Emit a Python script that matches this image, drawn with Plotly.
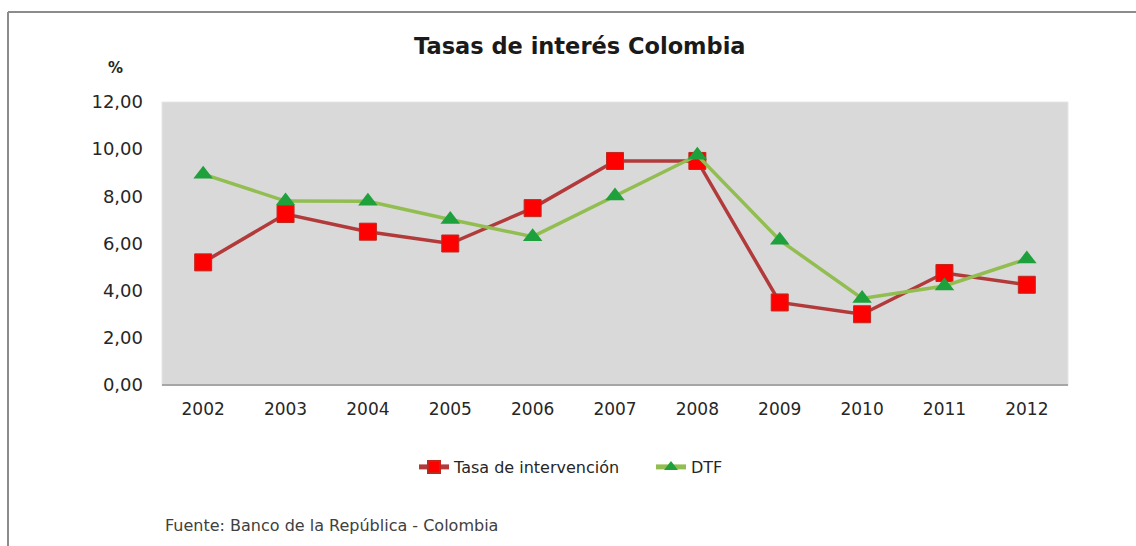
import plotly.graph_objects as go

years = ["2002", "2003", "2004", "2005", "2006", "2007", "2008", "2009", "2010", "2011", "2012"]
tasa_intervencion = [5.20, 7.25, 6.50, 6.00, 7.50, 9.50, 9.50, 3.50, 3.00, 4.75, 4.25]
dtf = [8.94, 7.80, 7.79, 7.02, 6.29, 8.01, 9.74, 6.14, 3.67, 4.20, 5.34]
y_ticks = [0, 2, 4, 6, 8, 10, 12]

W, H = 1136, 546
L, R, T, B = 162, 68, 102, 161
pw, ph = W - L - R, H - T - B


def px(x):
    return (x - L) / pw


def py(y):
    return (H - B - y) / ph


FONT = "DejaVu Sans"

fig = go.Figure()
fig.add_trace(go.Scatter(
    x=years, y=tasa_intervencion, name="Tasa de intervención",
    mode="lines+markers",
    line=dict(color="#b23a3a", width=3.5),
    marker=dict(symbol="square", size=17, color="#ff0000",
                line=dict(color="#c0281e", width=1)),
))
fig.add_trace(go.Scatter(
    x=years, y=dtf, name="DTF",
    mode="lines+markers",
    line=dict(color="#92bd50", width=3.5),
    marker=dict(symbol="triangle-up", size=17, color="#1ea03c",
                line=dict(color="#1ea03c", width=0)),
))

fig.update_layout(
    width=W, height=H,
    margin=dict(l=L, r=R, t=T, b=B),
    paper_bgcolor="white",
    plot_bgcolor="#d9d9d9",
    separators=",.",
    font=dict(family=FONT, size=14, color="#262626"),
    showlegend=True,
    legend=dict(
        orientation="h", x=px(414), y=py(467), xanchor="left", yanchor="middle",
        font=dict(size=16, color="#262626"), bgcolor="rgba(0,0,0,0)",
        entrywidth=192, entrywidthmode="pixels", tracegroupgap=0,
        itemsizing="constant",
    ),
    xaxis=dict(
        type="category", range=[-0.5, 10.5], showgrid=False, zeroline=False,
        showline=False, ticks="", tickfont=dict(size=17, color="#262626"),
        ticklabelstandoff=12,
    ),
    yaxis=dict(
        range=[0, 12], tickvals=y_ticks, tickformat=".2f", showgrid=False,
        zeroline=False, showline=False, ticks="",
        tickfont=dict(size=18, color="#262626"), ticklabelstandoff=18,
    ),
    shapes=[
        # outer frame of the chart area
        dict(type="line", xref="paper", yref="paper", x0=px(8), x1=px(1136),
             y0=py(12), y1=py(12), line=dict(color="#8c8c8c", width=2)),
        dict(type="line", xref="paper", yref="paper", x0=px(8), x1=px(8),
             y0=py(12), y1=py(546), line=dict(color="#8c8c8c", width=2)),
        # plot area edges
        dict(type="line", xref="paper", yref="paper", x0=0, x1=1, y0=0, y1=0,
             line=dict(color="#a6a6a6", width=2)),
        dict(type="rect", xref="paper", yref="paper", x0=0, x1=1, y0=0, y1=1,
             line=dict(color="#e6e6e6", width=1), layer="below"),
    ],
    annotations=[
        dict(text="<b>Tasas de interés Colombia</b>", xref="paper", yref="paper",
             x=px(580), y=py(46), xanchor="center", yanchor="middle",
             showarrow=False, font=dict(size=22.5, color="#1a1a1a", family=FONT)),
        dict(text="<b>%</b>", xref="paper", yref="paper",
             x=px(115), y=py(68), xanchor="center", yanchor="middle",
             showarrow=False, font=dict(size=15, color="#262626", family=FONT)),
        dict(text="Fuente: Banco de la República - Colombia", xref="paper", yref="paper",
             x=px(163), y=py(525), xanchor="left", yanchor="middle",
             showarrow=False, font=dict(size=16, color="#404040", family=FONT)),
    ],
)

fig.write_html("out.html")
